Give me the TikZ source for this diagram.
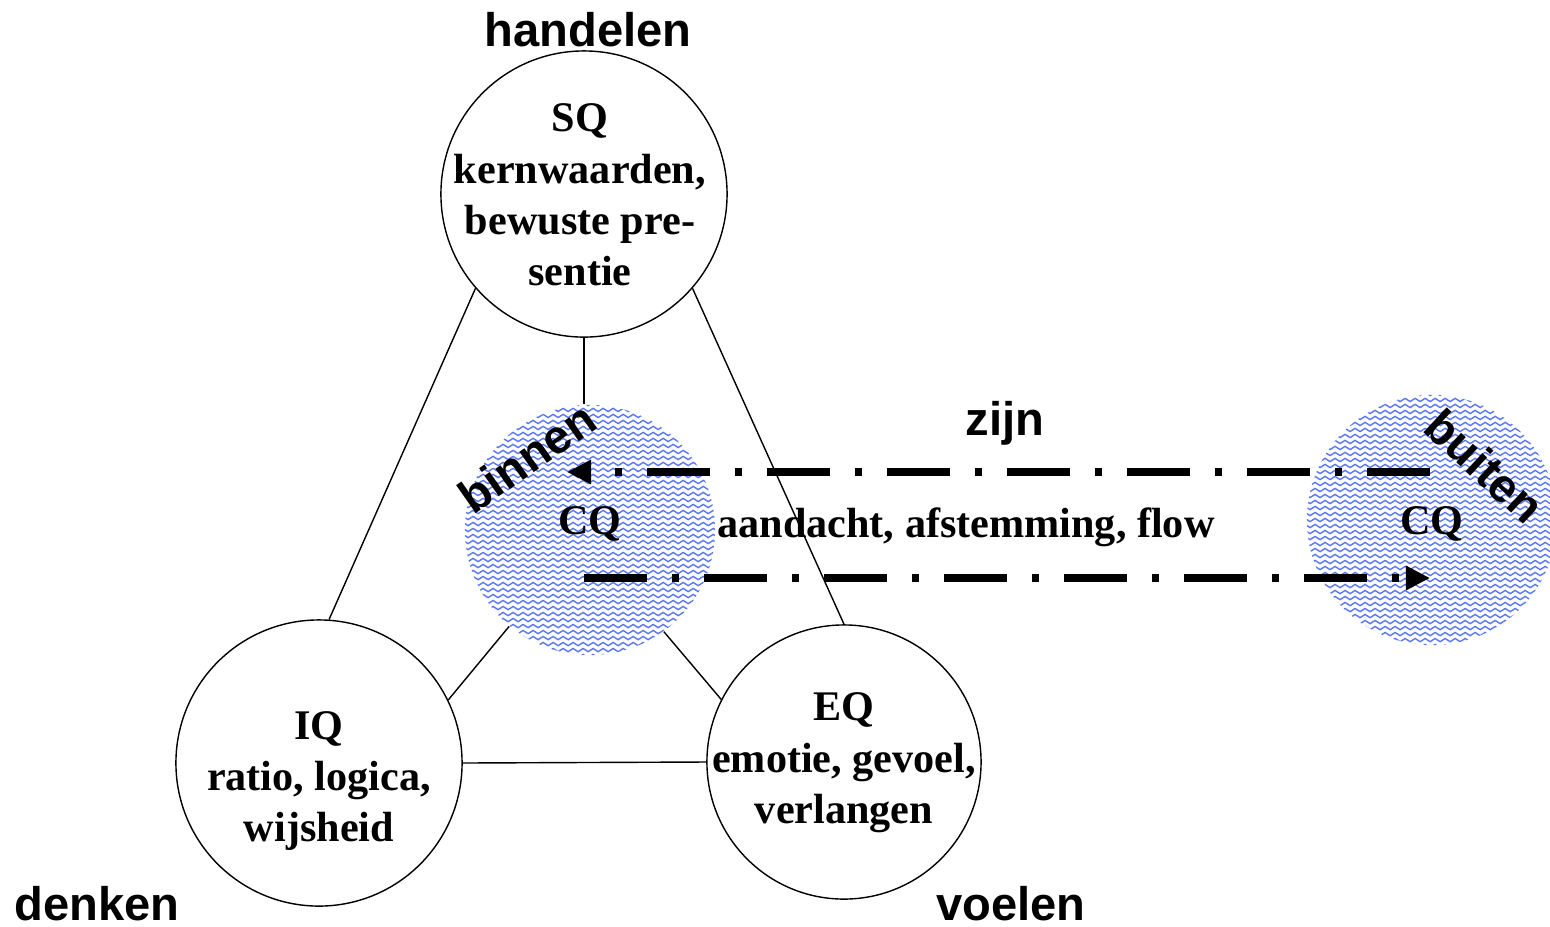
\documentclass[tikz,border=0pt]{standalone}
\usepackage{fontspec}
\setmainfont{Liberation Serif}
\newfontfamily\headfont{Liberation Sans}
\usetikzlibrary{arrows.meta,calc,decorations.pathmorphing}

\definecolor{wavyblue}{RGB}{90,120,240}

\begin{document}
\begin{tikzpicture}[
    x=0.01cm, y=-0.01cm,
    ring/.style={draw, circle, minimum size=#1},
    qtext/.style={align=center, font=\bfseries\fontsize{12}{14.6}\selectfont},
    corner/.style={font=\headfont\bfseries\fontsize{13.4}{16}\selectfont},
    wave/.style={draw=wavyblue, line width=0.4pt, decorate,
        decoration={snake, segment length=0.1cm, amplitude=0.016cm}},
    cqdisc/.style={circle, minimum size=2.5cm,
        path picture={
            \foreach \k in {-22,...,22}
                \draw[wave] ($(path picture bounding box.center)+(-1.4cm,\k*0.06cm)$) -- ++(2.8cm,0);
        }},
    flow/.style={line width=0.075cm,
        dash pattern=on 0.63cm off 0.25cm on 0.07cm off 0.25cm,
        -{Triangle[length=0.24cm,width=0.23cm]}}
]

    \fill[white] (0,0) rectangle (1550,926);
    \useasboundingbox (0,0) rectangle (1550,926);

    % Quotient circles
    \node[ring=2.86cm] (sq) at (584,194) {};
    \node[ring=2.86cm] (iq) at (319,763) {};
    \node[ring=2.74cm] (eq) at (844,762) {};

    \node[qtext] (sqtext) at (580,195) {SQ\\kernwaarden,\\bewuste pre-\\sentie};
    \node[qtext] (iqtext) at (319,781) {IQ\\ratio, logica,\\wijsheid};
    \node[qtext] (eqtext) at (844,763) {EQ\\emotie, gevoel,\\verlangen};

    % CQ discs
    \node[cqdisc] (cql) at (590,530) {};
    \node[cqdisc] (cqr) at (1432,520) {};
    \node[qtext] (cqltext) at (590,524) {CQ};
    \node[qtext] (cqrtext) at (1432,524) {CQ};

    % Triangle
    \draw (sq.221) -- (iq.86);
    \draw (sq.-41) -- (eq.90);
    \draw (sq.south) -- (sq.south |- cql.north);
    \draw (cql.230) -- (iq.26);
    \draw (cql.306) -- (eq.153);
    \draw (iq.east) -- (eq.west);

    % Flow between inside and outside
    \draw[flow] (cqr.center) ++(-2,-48) -- ++(-863,0);
    \draw[flow] (cql.center) ++(-6,48) -- ++(846,0);
    \node[qtext] (flowtext) at (966,527) {aandacht, afstemming, flow};

    % Labels
    \node[corner] (handelen) at (588,30) {handelen};
    \node[corner] (denken) at (97,904) {denken};
    \node[corner] (voelen) at (1011,904) {voelen};
    \node[corner] (zijn) at (1005,423) {zijn};
    \node[corner, rotate=35] (binnen) at (527,457) {binnen};
    \node[corner, rotate=-43] (buiten) at (1485,466) {buiten};

\end{tikzpicture}
\end{document}
